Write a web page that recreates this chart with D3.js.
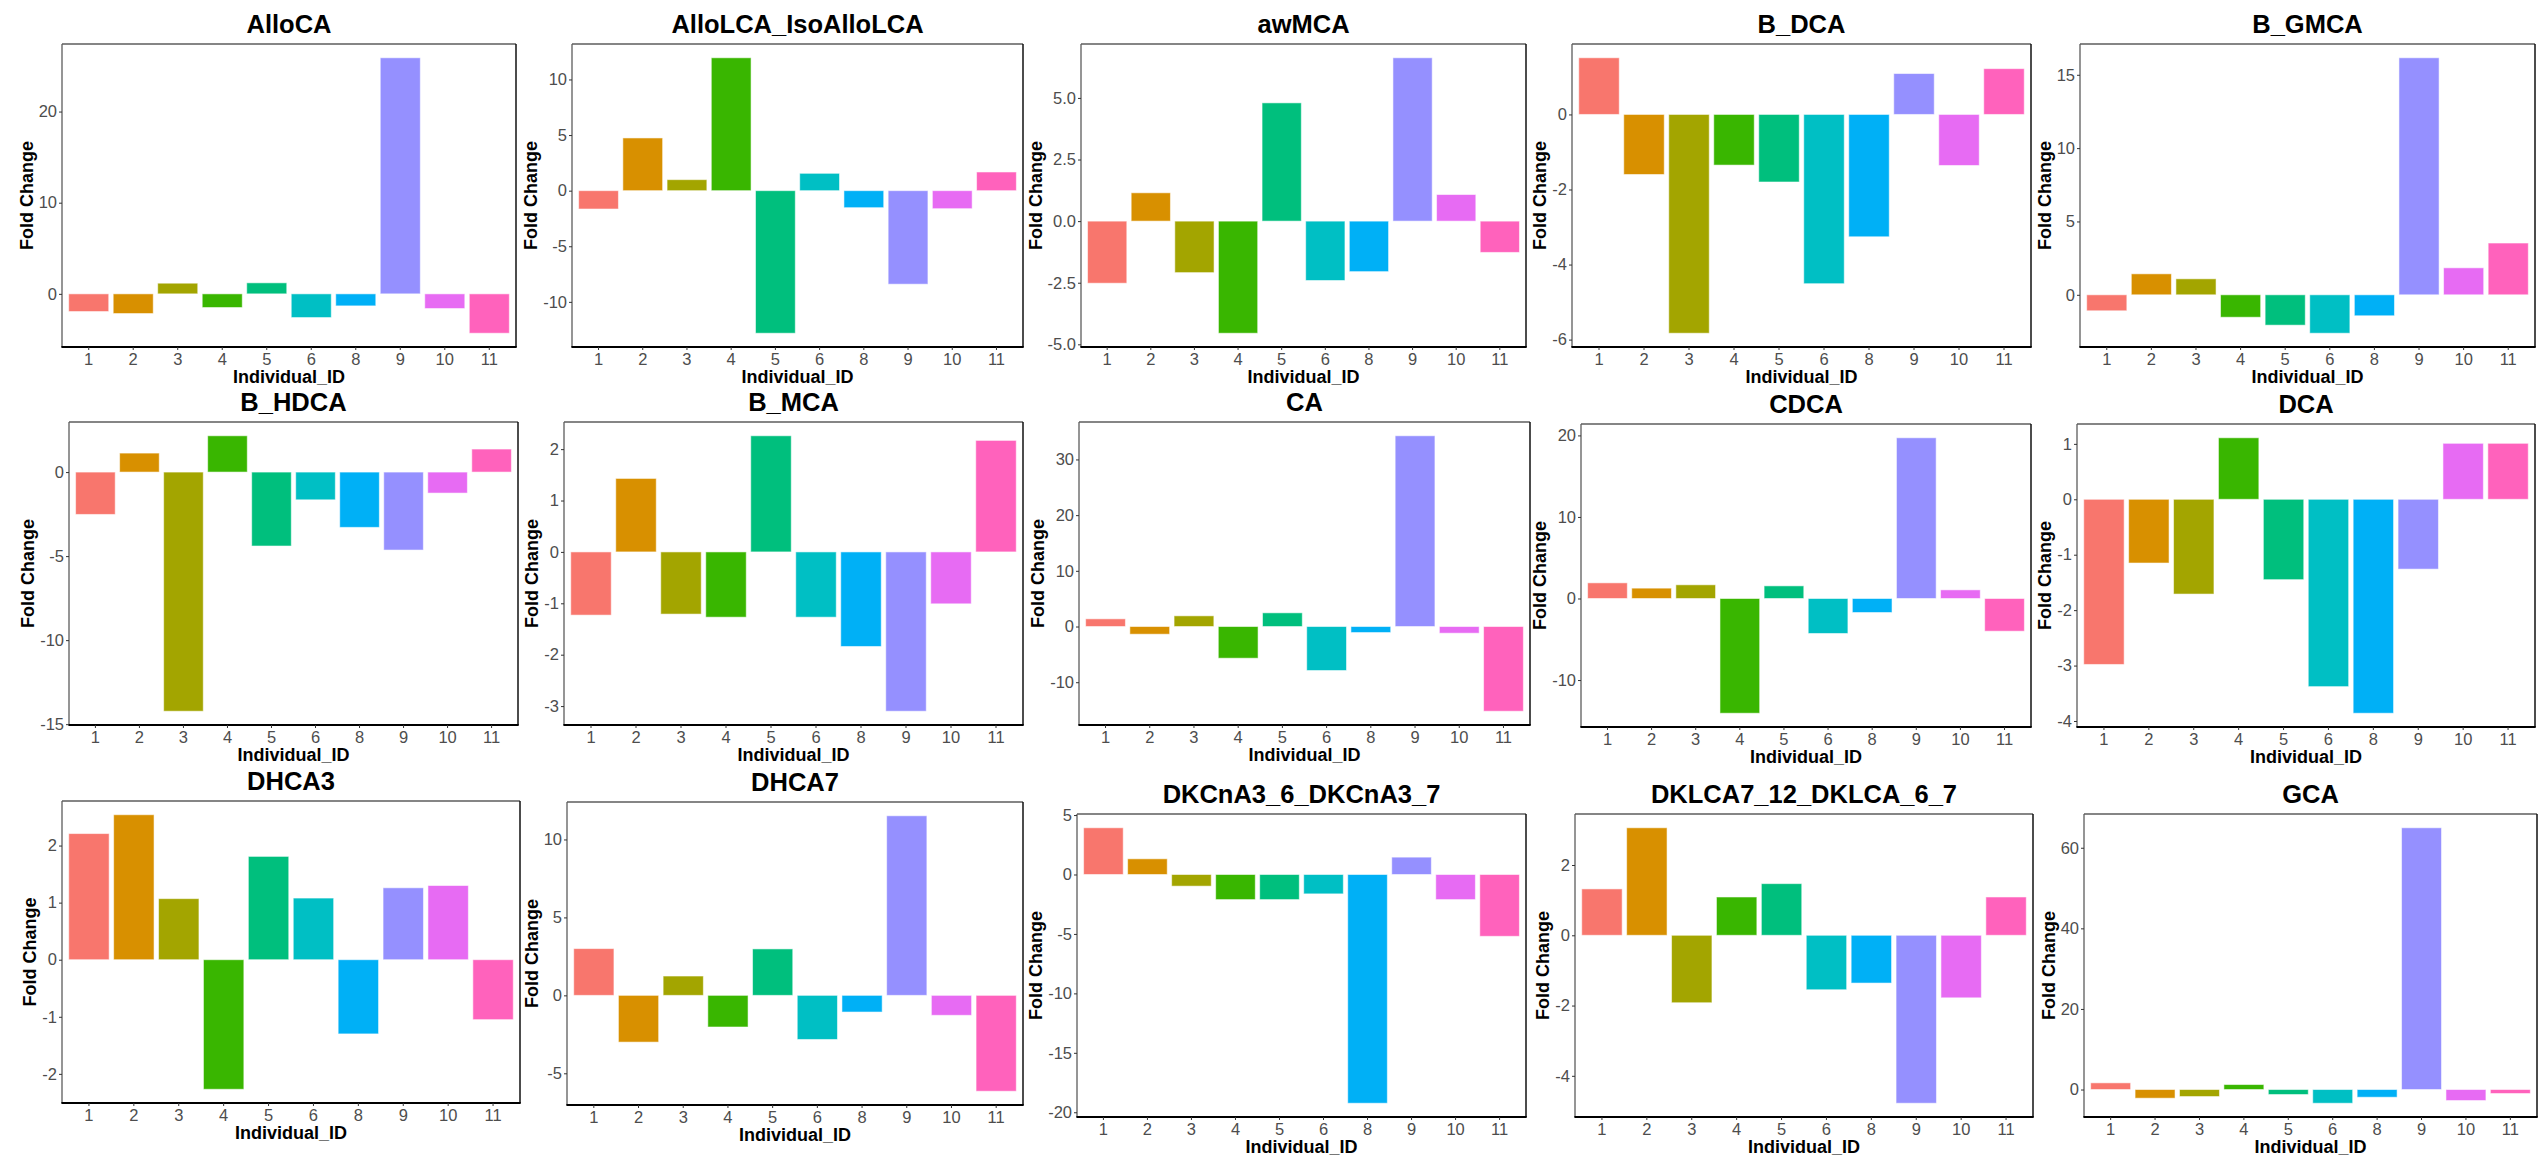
<!DOCTYPE html>
<html>
<head>
<meta charset="utf-8">
<script src="https://cdn.jsdelivr.net/npm/d3@7"></script>
<style>
  body { margin: 0; background: #fff; }
  svg { display: block; font-family: "Liberation Sans", Arial, sans-serif; }
</style>
</head>
<body>
<svg id="chart" width="2539" height="1159"></svg>
<script>
// ---------------- DATA ----------------
const individualIds = ["1","2","3","4","5","6","8","9","10","11"];
const idColors = ["#F8766D","#D89000","#A3A500","#39B600","#00BF7D","#00BFC4","#00B0F6","#9590FF","#E76BF3","#FF62BC"];

const panelTitles = ["AlloCA","AlloLCA_IsoAlloLCA","awMCA","B_DCA","B_GMCA",
                     "B_HDCA","B_MCA","CA","CDCA","DCA",
                     "DHCA3","DHCA7","DKCnA3_6_DKCnA3_7","DKLCA7_12_DKLCA_6_7","GCA"];

const valAlloCA    = [-1.94, -2.16, 1.17, -1.50, 1.21, -2.60, -1.32, 25.9, -1.61, -4.32];
const valAlloLCA   = [-1.65, 4.74, 0.99, 11.95, -12.82, 1.56, -1.53, -8.41, -1.62, 1.68];
const valAwMCA     = [-2.52, 1.15, -2.09, -4.55, 4.80, -2.41, -2.05, 6.63, 1.08, -1.27];
const valBDCA      = [1.51, -1.60, -5.83, -1.35, -1.80, -4.51, -3.26, 1.09, -1.36, 1.22];
const valBGMCA     = [-1.09, 1.43, 1.09, -1.53, -2.07, -2.62, -1.43, 16.16, 1.84, 3.53];
const valBHDCA     = [-2.52, 1.13, -14.23, 2.16, -4.40, -1.65, -3.29, -4.64, -1.25, 1.37];
const valBMCA      = [-1.23, 1.43, -1.21, -1.27, 2.26, -1.27, -1.84, -3.10, -1.01, 2.17];
const valCA        = [1.38, -1.38, 1.92, -5.69, 2.46, -7.90, -1.08, 34.25, -1.20, -15.21];
const valCDCA      = [1.92, 1.27, 1.68, -14.07, 1.55, -4.29, -1.72, 19.71, 1.06, -4.01];
const valDCA       = [-2.98, -1.15, -1.71, 1.11, -1.45, -3.38, -3.86, -1.26, 1.01, 1.01];
const valDHCA3     = [2.21, 2.54, 1.07, -2.27, 1.81, 1.08, -1.30, 1.26, 1.30, -1.05];
const valDHCA7     = [3.00, -3.00, 1.24, -2.03, 2.98, -2.83, -1.07, 11.52, -1.28, -6.15];
const valDKCnA3    = [3.93, 1.32, -0.98, -2.11, -2.11, -1.63, -19.24, 1.46, -2.11, -5.20];
const valDKLCA     = [1.32, 3.06, -1.92, 1.09, 1.47, -1.55, -1.36, -4.78, -1.78, 1.09];
const valGCA       = [1.66, -2.15, -1.74, 1.24, -1.24, -3.40, -1.91, 64.96, -2.73, -0.99];

const panelValues = [valAlloCA, valAlloLCA, valAwMCA, valBDCA, valBGMCA,
                     valBHDCA, valBMCA, valCA, valCDCA, valDCA,
                     valDHCA3, valDHCA7, valDKCnA3, valDKLCA, valGCA];

// y-axis tick values per panel
const ticksAlloCA  = [0, 10, 20];
const ticksAlloLCA = [-10, -5, 0, 5, 10];
const ticksAwMCA   = [-5, -2.5, 0, 2.5, 5];
const ticksBDCA    = [-6, -4, -2, 0];
const ticksBGMCA   = [0, 5, 10, 15];
const ticksBHDCA   = [-15, -10, -5, 0];
const ticksBMCA    = [-3, -2, -1, 0, 1, 2];
const ticksCA      = [-10, 0, 10, 20, 30];
const ticksCDCA    = [-10, 0, 10, 20];
const ticksDCA     = [-4, -3, -2, -1, 0, 1];
const ticksDHCA3   = [-2, -1, 0, 1, 2];
const ticksDHCA7   = [-5, 0, 5, 10];
const ticksDKCnA3  = [-20, -15, -10, -5, 0, 5];
const ticksDKLCA   = [-4, -2, 0, 2];
const ticksGCA     = [0, 20, 40, 60];

const panelTicks = [ticksAlloCA, ticksAlloLCA, ticksAwMCA, ticksBDCA, ticksBGMCA,
                    ticksBHDCA, ticksBMCA, ticksCA, ticksCDCA, ticksDCA,
                    ticksDHCA3, ticksDHCA7, ticksDKCnA3, ticksDKLCA, ticksGCA];
const panelTickFormats = ["d","d",".1f","d","d","d","d","d","d","d","d","d","d","d","d"];

const xTitle = "Individual_ID";
const yTitle = "Fold Change";

// ---------------- LAYOUT (panel rectangles: left, right, top, bottom) ----------------
const layout = [
  [62, 516, 44, 347], [572, 1023, 44, 347], [1081, 1526, 44, 347], [1572, 2031, 44, 347], [2080, 2535, 44, 347],
  [69, 518, 422, 725], [564, 1023, 422, 725], [1079, 1530, 422, 725], [1581, 2031, 424, 727], [2077, 2535, 424, 727],
  [62, 520, 801, 1103], [567, 1023, 802, 1105], [1077, 1526, 814, 1117], [1575, 2033, 814, 1117], [2084, 2537, 814, 1117]
];

// ---------------- DRAW ----------------
const svg = d3.select("#chart");
svg.append("rect").attr("width", 2539).attr("height", 1159).attr("fill", "#fff");

panelTitles.forEach((title, i) => {
  const [L, R, T, B] = layout[i];
  const vals = panelValues[i];
  const data = individualIds.map((id, k) => ({ id, v: vals[k], c: idColors[k] }));

  const x = d3.scaleBand().domain(individualIds).range([L, R])
              .paddingInner(0.1).paddingOuter(0.15);
  const lo = Math.min(0, d3.min(vals)), hi = Math.max(0, d3.max(vals));
  const pad = (hi - lo) * 0.05;
  const y = d3.scaleLinear().domain([lo - pad, hi + pad]).range([B, T]);

  const g = svg.append("g");

  // bars
  g.selectAll("rect.bar").data(data).enter().append("rect")
    .attr("class", "bar")
    .attr("x", d => x(d.id))
    .attr("width", x.bandwidth())
    .attr("y", d => y(Math.max(0, d.v)))
    .attr("height", d => Math.abs(y(d.v) - y(0)))
    .attr("fill", d => d.c)
    .attr("stroke", "#fff")
    .attr("stroke-opacity", 0.55)
    .attr("stroke-width", 1);

  // panel border
  g.append("line").attr("x1", L).attr("x2", R).attr("y1", T).attr("y2", T)
    .attr("stroke", "#5c5c5c").attr("stroke-width", 1.3);
  g.append("line").attr("x1", L).attr("x2", L).attr("y1", T).attr("y2", B)
    .attr("stroke", "#5c5c5c").attr("stroke-width", 1.3);
  g.append("line").attr("x1", R).attr("x2", R).attr("y1", T).attr("y2", B)
    .attr("stroke", "#111").attr("stroke-width", 1.5);
  g.append("line").attr("x1", L - 0.6).attr("x2", R + 0.7).attr("y1", B).attr("y2", B)
    .attr("stroke", "#000").attr("stroke-width", 1.8);

  // y axis
  const yAxis = g.append("g").attr("transform", `translate(${L},0)`)
    .call(d3.axisLeft(y).tickValues(panelTicks[i]).tickFormat(d3.format(panelTickFormats[i])).tickSize(3).tickPadding(2));
  yAxis.select(".domain").remove();
  yAxis.selectAll(".tick line").attr("stroke", "#333");
  yAxis.selectAll(".tick text")
    .attr("fill", "#4D4D4D").attr("font-size", "16.5px")
    .attr("font-family", "Liberation Sans, Arial, sans-serif")
    .text(function() { return d3.select(this).text().replace("\u2212", "-"); });

  // x axis
  const xAxis = g.append("g").attr("transform", `translate(0,${B})`)
    .call(d3.axisBottom(x).tickSize(3).tickPadding(3));
  xAxis.select(".domain").remove();
  xAxis.selectAll(".tick line").attr("stroke", "#333");
  xAxis.selectAll(".tick text")
    .attr("fill", "#4D4D4D").attr("font-size", "16.5px")
    .attr("font-family", "Liberation Sans, Arial, sans-serif");

  // max y tick label width
  let maxW = 0;
  yAxis.selectAll(".tick text").each(function() {
    maxW = Math.max(maxW, this.getComputedTextLength());
  });

  // y title
  const yx = L - 5 - maxW - 6;
  g.append("text")
    .attr("transform", `translate(${yx},${(T + B) / 2}) rotate(-90)`)
    .attr("text-anchor", "middle")
    .attr("font-size", "18px").attr("font-weight", "bold").attr("fill", "#000")
    .text(yTitle);

  // x title
  g.append("text")
    .attr("x", (L + R) / 2).attr("y", B + 36)
    .attr("text-anchor", "middle")
    .attr("font-size", "18px").attr("font-weight", "bold").attr("fill", "#000")
    .text(xTitle);

  // panel title
  g.append("text")
    .attr("x", (L + R) / 2).attr("y", T - 11)
    .attr("text-anchor", "middle")
    .attr("font-size", "25.5px").attr("font-weight", "bold").attr("fill", "#000")
    .text(title);
});
</script>
</body>
</html>
